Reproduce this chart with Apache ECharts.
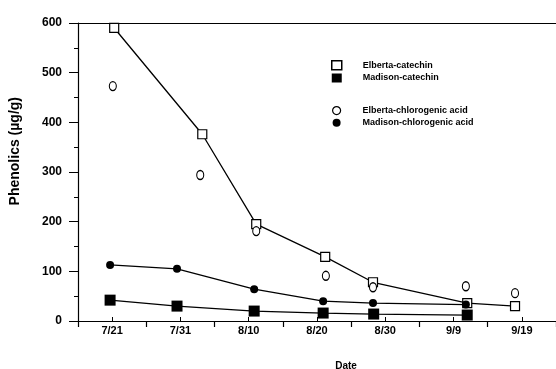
<!DOCTYPE html>
<html>
<head>
<meta charset="utf-8">
<script src="https://cdn.jsdelivr.net/npm/echarts@6/dist/echarts.min.js"></script>
<style>html,body{margin:0;padding:0;background:#fff}#c{width:556px;height:369px}</style>
</head>
<body>
<div id="c"></div>
<script>
// Days counted from 7/16 (x axis position)
const dateTicks = [5, 15, 25, 35, 45, 55, 65];
const dateLabels = ['7/21', '7/31', '8/10', '8/20', '8/30', '9/9', '9/19'];

const elbertaCatDays = [5.3, 18.2, 26.1, 36.2, 43.2, 57.0, 64.0];
const elbertaCatechin = [590, 376, 195, 129, 78, 36, 30];

const madisonCatDays = [4.7, 14.5, 25.8, 35.9, 43.3, 57.0];
const madisonCatechin = [42, 30, 20, 16, 14, 12];

const elbertaChlDays = [5.1, 17.9, 26.1, 36.3, 43.2, 56.8, 64.0];
const elbertaChlorogenic = [473, 294, 181, 91, 68, 70, 56];

const madisonChlDays = [4.7, 14.5, 25.8, 35.9, 43.2, 56.8];
const madisonChlorogenic = [113, 105, 64, 40, 36, 33];

const seriesNames = ['Elberta-catechin', 'Madison-catechin', 'Elberta-chlorogenic acid', 'Madison-chlorogenic acid'];

function pairs(xs, ys) { return xs.map((x, i) => [x, ys[i]]); }

const FONT = '"Liberation Sans", Arial, sans-serif';
const ellipse = 'path://M0,5 A5,5 0 1,0 10,5 A5,5 0 1,0 0,5 Z';

const chart = echarts.init(document.getElementById('c'), null, {renderer: 'canvas'});
chart.setOption({
  animation: false,
  backgroundColor: '#fff',
  grid: {left: 78, right: 0, top: 23, bottom: 48, containLabel: false},
  xAxis: [
    {
      type: 'value', min: 0, max: 70, interval: 10, position: 'bottom',
      axisLine: {show: true, onZero: false, lineStyle: {color: '#000', width: 1.2}},
      axisTick: {show: true, inside: false, length: 6, lineStyle: {color: '#000', width: 1.2}},
      axisLabel: {
        show: true, customValues: dateTicks, margin: 4,
        fontFamily: FONT, fontWeight: 'bold', fontSize: 11, color: '#000',
        formatter: v => { const i = dateTicks.indexOf(v); return i >= 0 ? dateLabels[i] : ''; }
      },
      splitLine: {show: false}
    },
    {
      type: 'value', min: 0, max: 70, position: 'bottom',
      axisLine: {show: false, onZero: false},
      axisTick: {show: true, inside: true, length: 4, customValues: dateTicks, lineStyle: {color: '#000', width: 1}},
      axisLabel: {show: false},
      splitLine: {show: false}
    },
    {
      type: 'value', min: 0, max: 70, position: 'top',
      axisLine: {show: true, onZero: false, lineStyle: {color: '#000', width: 1.2}},
      axisTick: {show: false}, axisLabel: {show: false}, splitLine: {show: false}
    }
  ],
  yAxis: {
    type: 'value', min: 0, max: 600, interval: 100,
    axisLine: {show: true, onZero: false, lineStyle: {color: '#000', width: 1.2}},
    axisTick: {show: true, inside: false, length: 9, lineStyle: {color: '#000', width: 1}},
    minorTick: {show: true, splitNumber: 2, length: 4, lineStyle: {color: '#000', width: 1}},
    axisLabel: {margin: 16, fontFamily: FONT, fontWeight: 'bold', fontSize: 12, color: '#000'},
    splitLine: {show: false}
  },
  legend: [
    {
      orient: 'vertical', left: 331, top: 60, padding: 0, itemWidth: 10, itemHeight: 9, itemGap: 3,
      textStyle: {fontFamily: FONT, fontWeight: 'bold', fontSize: 9, color: '#000', padding: [0, 0, 0, 16]},
      data: [
        {name: seriesNames[0], icon: 'rect', itemStyle: {color: '#fff', borderColor: '#000', borderWidth: 1.5}},
        {name: seriesNames[1], icon: 'rect', itemStyle: {color: '#000', borderWidth: 0}}
      ]
    },
    {
      orient: 'vertical', left: 332, top: 106, padding: 0, itemWidth: 8, itemHeight: 9, itemGap: 3,
      textStyle: {fontFamily: FONT, fontWeight: 'bold', fontSize: 9, color: '#000', padding: [0, 0, 0, 17]},
      data: [
        {name: seriesNames[2], icon: ellipse, itemStyle: {color: '#fff', borderColor: '#000', borderWidth: 1.2}},
        {name: seriesNames[3], icon: 'circle', itemStyle: {color: '#000', borderWidth: 0}}
      ]
    }
  ],
  graphic: [
    {
      type: 'text', left: 8, top: 97, rotation: Math.PI / 2,
      style: {text: 'Phenolics (\u00b5g/g)', fontFamily: FONT, fontWeight: 'bold', fontSize: 14, fill: '#000'},
      originX: 0, originY: 0
    },
    {
      type: 'text', x: 346, y: 366,
      style: {text: 'Date', fontFamily: FONT, fontWeight: 'bold', fontSize: 10, fill: '#000', align: 'center', verticalAlign: 'middle'}
    }
  ],
  series: [
    {
      name: seriesNames[0], type: 'line', data: pairs(elbertaCatDays, elbertaCatechin),
      symbol: 'rect', symbolSize: 9, z: 3,
      lineStyle: {color: '#000', width: 1.3},
      itemStyle: {color: '#fff', borderColor: '#000', borderWidth: 1.2}
    },
    {
      name: seriesNames[1], type: 'line', data: pairs(madisonCatDays, madisonCatechin),
      symbol: 'rect', symbolSize: 11, z: 3,
      lineStyle: {color: '#000', width: 1.3},
      itemStyle: {color: '#000', borderWidth: 0}
    },
    {
      name: seriesNames[2], type: 'scatter', data: pairs(elbertaChlDays, elbertaChlorogenic),
      symbol: ellipse, symbolSize: [7, 9], z: 4,
      itemStyle: {color: '#fff', borderColor: '#000', borderWidth: 1.2, opacity: 1}
    },
    {
      name: seriesNames[3], type: 'line', data: pairs(madisonChlDays, madisonChlorogenic),
      symbol: 'circle', symbolSize: 8, z: 3,
      lineStyle: {color: '#000', width: 1.3},
      itemStyle: {color: '#000', borderWidth: 0}
    }
  ]
});
</script>
</body>
</html>
